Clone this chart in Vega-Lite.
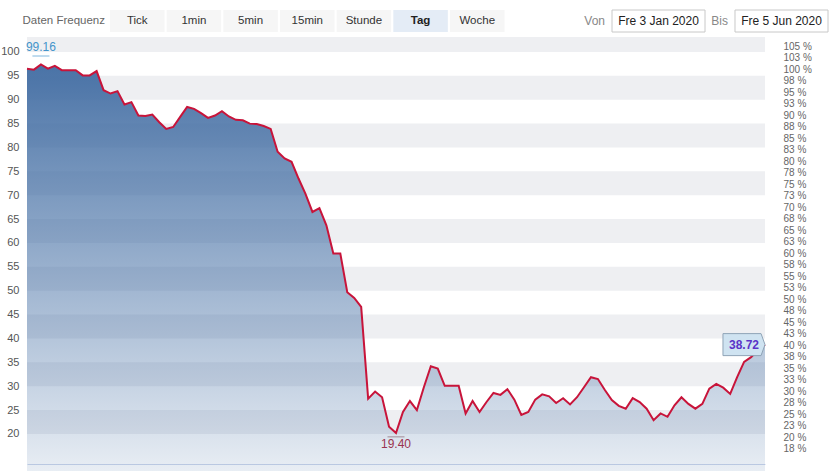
{
  "$schema": "https://vega.github.io/schema/vega-lite/v6.json",
  "padding": {"left": 0, "top": 9, "right": 0, "bottom": 0},
  "background": "white",
  "spacing": 4,
  "config": {"font": "Liberation Sans", "view": {"stroke": null}},
  "datasets": {
    "prices": [
      {"date": "2020-01-03", "value": 96.5}, {"date": "2020-01-06", "value": 96.3}, {"date": "2020-01-07", "value": 97.4},
      {"date": "2020-01-08", "value": 96.5}, {"date": "2020-01-09", "value": 97.1}, {"date": "2020-01-10", "value": 96.2},
      {"date": "2020-01-13", "value": 96.2}, {"date": "2020-01-14", "value": 96.2}, {"date": "2020-01-15", "value": 95.1},
      {"date": "2020-01-16", "value": 95.1}, {"date": "2020-01-17", "value": 96.0}, {"date": "2020-01-20", "value": 92.0},
      {"date": "2020-01-21", "value": 91.3}, {"date": "2020-01-22", "value": 91.8}, {"date": "2020-01-23", "value": 89.0},
      {"date": "2020-01-24", "value": 89.5}, {"date": "2020-01-27", "value": 86.7}, {"date": "2020-01-28", "value": 86.6},
      {"date": "2020-01-29", "value": 86.9}, {"date": "2020-01-30", "value": 85.3}, {"date": "2020-01-31", "value": 83.9},
      {"date": "2020-02-03", "value": 84.3}, {"date": "2020-02-04", "value": 86.4}, {"date": "2020-02-05", "value": 88.5},
      {"date": "2020-02-06", "value": 88.1}, {"date": "2020-02-07", "value": 87.2}, {"date": "2020-02-10", "value": 86.2},
      {"date": "2020-02-11", "value": 86.7}, {"date": "2020-02-12", "value": 87.6}, {"date": "2020-02-13", "value": 86.5},
      {"date": "2020-02-14", "value": 85.8}, {"date": "2020-02-17", "value": 85.7}, {"date": "2020-02-18", "value": 85.0},
      {"date": "2020-02-19", "value": 84.9}, {"date": "2020-02-20", "value": 84.5}, {"date": "2020-02-21", "value": 83.9},
      {"date": "2020-02-24", "value": 79.1}, {"date": "2020-02-25", "value": 77.7}, {"date": "2020-02-26", "value": 77.0},
      {"date": "2020-02-27", "value": 73.5}, {"date": "2020-02-28", "value": 70.3}, {"date": "2020-03-02", "value": 66.5},
      {"date": "2020-03-03", "value": 67.3}, {"date": "2020-03-04", "value": 63.7}, {"date": "2020-03-05", "value": 57.8},
      {"date": "2020-03-06", "value": 57.8}, {"date": "2020-03-09", "value": 49.7}, {"date": "2020-03-10", "value": 48.5},
      {"date": "2020-03-11", "value": 46.6}, {"date": "2020-03-12", "value": 27.4}, {"date": "2020-03-13", "value": 28.9},
      {"date": "2020-03-16", "value": 27.7}, {"date": "2020-03-17", "value": 21.5}, {"date": "2020-03-18", "value": 20.2},
      {"date": "2020-03-19", "value": 24.6}, {"date": "2020-03-20", "value": 26.9}, {"date": "2020-03-23", "value": 25.0},
      {"date": "2020-03-24", "value": 29.8}, {"date": "2020-03-25", "value": 34.2}, {"date": "2020-03-26", "value": 33.7},
      {"date": "2020-03-27", "value": 30.1}, {"date": "2020-03-30", "value": 30.1}, {"date": "2020-03-31", "value": 30.1},
      {"date": "2020-04-01", "value": 24.3}, {"date": "2020-04-02", "value": 26.9}, {"date": "2020-04-03", "value": 24.6},
      {"date": "2020-04-06", "value": 26.7}, {"date": "2020-04-07", "value": 28.6}, {"date": "2020-04-08", "value": 28.2},
      {"date": "2020-04-09", "value": 29.4}, {"date": "2020-04-14", "value": 27.2}, {"date": "2020-04-15", "value": 24.0},
      {"date": "2020-04-16", "value": 24.6}, {"date": "2020-04-17", "value": 27.2}, {"date": "2020-04-20", "value": 28.3},
      {"date": "2020-04-21", "value": 27.9}, {"date": "2020-04-22", "value": 26.5}, {"date": "2020-04-23", "value": 27.5},
      {"date": "2020-04-24", "value": 26.2}, {"date": "2020-04-27", "value": 27.7}, {"date": "2020-04-28", "value": 29.8},
      {"date": "2020-04-29", "value": 31.9}, {"date": "2020-04-30", "value": 31.5}, {"date": "2020-05-04", "value": 29.2},
      {"date": "2020-05-05", "value": 27.1}, {"date": "2020-05-06", "value": 25.9}, {"date": "2020-05-07", "value": 25.3},
      {"date": "2020-05-08", "value": 27.5}, {"date": "2020-05-11", "value": 26.7}, {"date": "2020-05-12", "value": 25.3},
      {"date": "2020-05-13", "value": 22.9}, {"date": "2020-05-14", "value": 24.3}, {"date": "2020-05-15", "value": 23.6},
      {"date": "2020-05-18", "value": 26.0}, {"date": "2020-05-19", "value": 27.7}, {"date": "2020-05-20", "value": 26.3},
      {"date": "2020-05-21", "value": 25.3}, {"date": "2020-05-22", "value": 26.3}, {"date": "2020-05-25", "value": 29.5},
      {"date": "2020-05-26", "value": 30.5}, {"date": "2020-05-27", "value": 29.7}, {"date": "2020-05-28", "value": 28.4},
      {"date": "2020-05-29", "value": 31.9}, {"date": "2020-06-02", "value": 35.1}, {"date": "2020-06-03", "value": 36.1},
      {"date": "2020-06-04", "value": 37.6}, {"date": "2020-06-05", "value": 38.72}
    ],
    "bands": [
      {"lo": 20, "hi": 25}, {"lo": 30, "hi": 35}, {"lo": 40, "hi": 45}, {"lo": 50, "hi": 55}, {"lo": 60, "hi": 65},
      {"lo": 70, "hi": 75}, {"lo": 80, "hi": 85}, {"lo": 90, "hi": 95}, {"lo": 100, "hi": 105}
    ],
    "extremes": [
      {"date": "2020-01-07", "value": 99.16, "label": "99.16", "kind": "high"},
      {"date": "2020-03-18", "value": 19.40, "label": "19.40", "kind": "low"}
    ],
    "last": [
      {"date": "2020-06-05", "value": 38.72, "label": "38.72"}
    ]
  },
  "vconcat": [
    {
      "width": 803,
      "height": 22,
      "layer": [
        {
          "data": {"values": [
            {"label": "Tick", "active": false}, {"label": "1min", "active": false}, {"label": "5min", "active": false},
            {"label": "15min", "active": false}, {"label": "Stunde", "active": false}, {"label": "Tag", "active": true},
            {"label": "Woche", "active": false}
          ]},
          "layer": [
            {
              "mark": {"type": "rect"},
              "encoding": {
                "x": {"field": "label", "type": "nominal", "sort": null, "scale": {"type": "band", "range": [83, 477.5], "paddingInner": 0.038, "paddingOuter": 0}, "axis": null},
                "fill": {"condition": {"test": "datum.active", "value": "#e4ecf6"}, "value": "#f6f6f6"}
              }
            },
            {
              "transform": [{"filter": "!datum.active"}],
              "mark": {"type": "text", "fontSize": 11.5, "color": "#333333", "baseline": "middle"},
              "encoding": {
                "x": {"field": "label", "type": "nominal", "sort": null},
                "text": {"field": "label"}
              }
            },
            {
              "transform": [{"filter": "datum.active"}],
              "mark": {"type": "text", "fontSize": 11.5, "fontWeight": "bold", "color": "#222222", "baseline": "middle"},
              "encoding": {
                "x": {"field": "label", "type": "nominal", "sort": null},
                "text": {"field": "label"}
              }
            },
            {
              "data": {"values": [{"caption": "Daten Frequenz"}]},
              "mark": {"type": "text", "fontSize": 11.5, "color": "#666666", "align": "right", "dx": -5, "baseline": "middle"},
              "encoding": {
                "x": {"datum": "Tick", "type": "nominal", "bandPosition": 0},
                "text": {"field": "caption"}
              }
            }
          ]
        },
        {
          "data": {"values": [
            {"label": "Fre 3 Jan 2020", "prefix": "Von"},
            {"label": "Fre 5 Jun 2020", "prefix": "Bis"}
          ]},
          "layer": [
            {
              "mark": {"type": "rect", "fill": "white", "stroke": "#c8c8c8", "strokeWidth": 1},
              "encoding": {
                "x": {"field": "label", "type": "nominal", "sort": null, "scale": {"type": "band", "range": [585, 801], "paddingInner": 0.2439, "paddingOuter": 0}, "axis": null}
              }
            },
            {
              "mark": {"type": "text", "fontSize": 12, "color": "#222222", "baseline": "middle"},
              "encoding": {
                "x": {"field": "label", "type": "nominal", "sort": null},
                "text": {"field": "label"}
              }
            },
            {
              "mark": {"type": "text", "fontSize": 12, "color": "#888888", "align": "right", "dx": -7, "baseline": "middle"},
              "encoding": {
                "x": {"field": "label", "type": "nominal", "sort": null, "bandPosition": 0},
                "text": {"field": "prefix"}
              }
            }
          ]
        }
      ],
      "resolve": {"scale": {"x": "independent"}}
    },
    {
      "width": 738,
      "height": 427,
      "layer": [
        {
          "layer": [
            {
              "data": {"name": "bands"},
              "mark": {"type": "rect", "fill": "#eeeff2", "clip": true},
              "encoding": {
                "y": {"field": "lo", "type": "quantitative", "title": null,
                  "scale": {"domain": [13.717, 103.141], "zero": false, "nice": false},
                  "axis": {"values": [20, 25, 30, 35, 40, 45, 50, 55, 60, 65, 70, 75, 80, 85, 90, 95, 100], "tickCount": 17,
                    "domain": false, "ticks": false, "grid": false, "labelPadding": 8, "labelFontSize": 11,
                    "labelColor": "#555555", "labelFlush": false, "labelOverlap": false, "title": null}},
                "y2": {"field": "hi"}
              }
            },
            {
              "data": {"name": "prices"},
              "mark": {"type": "area",
                "color": {"gradient": "linear", "x1": 0, "y1": 0, "x2": 0, "y2": 1,
                  "stops": [{"offset": 0, "color": "rgba(66,109,163,0.96)"}, {"offset": 1, "color": "rgba(66,109,163,0)"}]}},
              "encoding": {
                "x": {"field": "date", "type": "ordinal", "title": null, "scale": {"type": "point", "padding": 0},
                  "axis": {"labels": false, "ticks": false, "domain": true, "domainColor": "#ccd6eb", "domainWidth": 1, "grid": false, "title": null}},
                "y": {"field": "value", "type": "quantitative", "title": null, "scale": {"domain": [13.717, 103.141], "zero": false, "nice": false},
                  "axis": {"values": [20, 25, 30, 35, 40, 45, 50, 55, 60, 65, 70, 75, 80, 85, 90, 95, 100], "tickCount": 17,
                    "domain": false, "ticks": false, "grid": false, "labelPadding": 8, "labelFontSize": 11,
                    "labelColor": "#555555", "labelFlush": false, "labelOverlap": false, "title": null}}
              }
            },
            {
              "data": {"name": "prices"},
              "mark": {"type": "line", "color": "#c8143a", "strokeWidth": 2},
              "encoding": {
                "x": {"field": "date", "type": "ordinal", "title": null},
                "y": {"field": "value", "type": "quantitative", "title": null,
                  "axis": {"values": [20, 25, 30, 35, 40, 45, 50, 55, 60, 65, 70, 75, 80, 85, 90, 95, 100], "tickCount": 17,
                    "domain": false, "ticks": false, "grid": false, "labelPadding": 8, "labelFontSize": 11,
                    "labelColor": "#555555", "labelFlush": false, "labelOverlap": false, "title": null}}
              }
            },
            {
              "data": {"name": "extremes"},
              "mark": {"type": "tick", "size": 17, "thickness": 1},
              "encoding": {
                "x": {"field": "date", "type": "ordinal", "title": null},
                "y": {"field": "value", "type": "quantitative", "title": null,
                  "axis": {"values": [20, 25, 30, 35, 40, 45, 50, 55, 60, 65, 70, 75, 80, 85, 90, 95, 100], "tickCount": 17,
                    "domain": false, "ticks": false, "grid": false, "labelPadding": 8, "labelFontSize": 11,
                    "labelColor": "#555555", "labelFlush": false, "labelOverlap": false, "title": null}},
                "color": {"condition": {"test": "datum.kind == 'high'", "value": "#4a9ad0"}, "value": "#8a6672"}
              }
            },
            {
              "data": {"name": "extremes"},
              "transform": [{"filter": "datum.kind == 'high'"}],
              "mark": {"type": "text", "fontSize": 12, "color": "#4394cb", "baseline": "bottom", "dy": -2},
              "encoding": {
                "x": {"field": "date", "type": "ordinal", "title": null},
                "y": {"field": "value", "type": "quantitative", "title": null,
                  "axis": {"values": [20, 25, 30, 35, 40, 45, 50, 55, 60, 65, 70, 75, 80, 85, 90, 95, 100], "tickCount": 17,
                    "domain": false, "ticks": false, "grid": false, "labelPadding": 8, "labelFontSize": 11,
                    "labelColor": "#555555", "labelFlush": false, "labelOverlap": false, "title": null}},
                "text": {"field": "label"}
              }
            },
            {
              "data": {"name": "extremes"},
              "transform": [{"filter": "datum.kind == 'low'"}],
              "mark": {"type": "text", "fontSize": 12, "color": "#9a3350", "baseline": "top", "dy": 2},
              "encoding": {
                "x": {"field": "date", "type": "ordinal", "title": null},
                "y": {"field": "value", "type": "quantitative", "title": null,
                  "axis": {"values": [20, 25, 30, 35, 40, 45, 50, 55, 60, 65, 70, 75, 80, 85, 90, 95, 100], "tickCount": 17,
                    "domain": false, "ticks": false, "grid": false, "labelPadding": 8, "labelFontSize": 11,
                    "labelColor": "#555555", "labelFlush": false, "labelOverlap": false, "title": null}},
                "text": {"field": "label"}
              }
            },
            {
              "data": {"name": "last"},
              "mark": {"type": "point", "shape": "M0,0 L-0.36,-1 L-3.82,-1 L-3.82,1 L-0.36,1 Z", "size": 484, "filled": true, "fill": "#cfe3f1", "stroke": "#8ea3b6", "strokeWidth": 1, "opacity": 1},
              "encoding": {
                "x": {"field": "date", "type": "ordinal", "title": null},
                "y": {"field": "value", "type": "quantitative", "title": null,
                  "axis": {"values": [20, 25, 30, 35, 40, 45, 50, 55, 60, 65, 70, 75, 80, 85, 90, 95, 100], "tickCount": 17,
                    "domain": false, "ticks": false, "grid": false, "labelPadding": 8, "labelFontSize": 11,
                    "labelColor": "#555555", "labelFlush": false, "labelOverlap": false, "title": null}}
              }
            },
            {
              "data": {"name": "last"},
              "mark": {"type": "text", "fontSize": 12, "fontWeight": "bold", "color": "#5a34c8", "dx": -21, "baseline": "middle"},
              "encoding": {
                "x": {"field": "date", "type": "ordinal", "title": null},
                "y": {"field": "value", "type": "quantitative", "title": null,
                  "axis": {"values": [20, 25, 30, 35, 40, 45, 50, 55, 60, 65, 70, 75, 80, 85, 90, 95, 100], "tickCount": 17,
                    "domain": false, "ticks": false, "grid": false, "labelPadding": 8, "labelFontSize": 11,
                    "labelColor": "#555555", "labelFlush": false, "labelOverlap": false, "title": null}},
                "text": {"field": "label"}
              }
            }
          ]
        },
        {
          "data": {"values": [{}]},
          "mark": {"type": "point", "opacity": 0},
          "encoding": {
            "y": {"datum": 50, "type": "quantitative", "title": null,
              "scale": {"domain": [14.23, 107.02], "zero": false, "nice": false},
              "axis": {"orient": "right", "values": [17.5, 20, 22.5, 25, 27.5, 30, 32.5, 35, 37.5, 40, 42.5, 45, 47.5, 50, 52.5, 55, 57.5, 60, 62.5, 65, 67.5, 70, 72.5, 75, 77.5, 80, 82.5, 85, 87.5, 90, 92.5, 95, 97.5, 100, 102.5, 105],
                "labelExpr": "format(datum.value, 'd') + ' %'", "domain": false, "ticks": false, "grid": false,
                "labelPadding": 18, "labelFontSize": 10, "labelColor": "#666666", "labelAlign": "left",
                "labelFlush": false, "labelOverlap": false, "title": null}}
          }
        }
      ],
      "resolve": {"scale": {"y": "independent"}}
    }
  ]
}
